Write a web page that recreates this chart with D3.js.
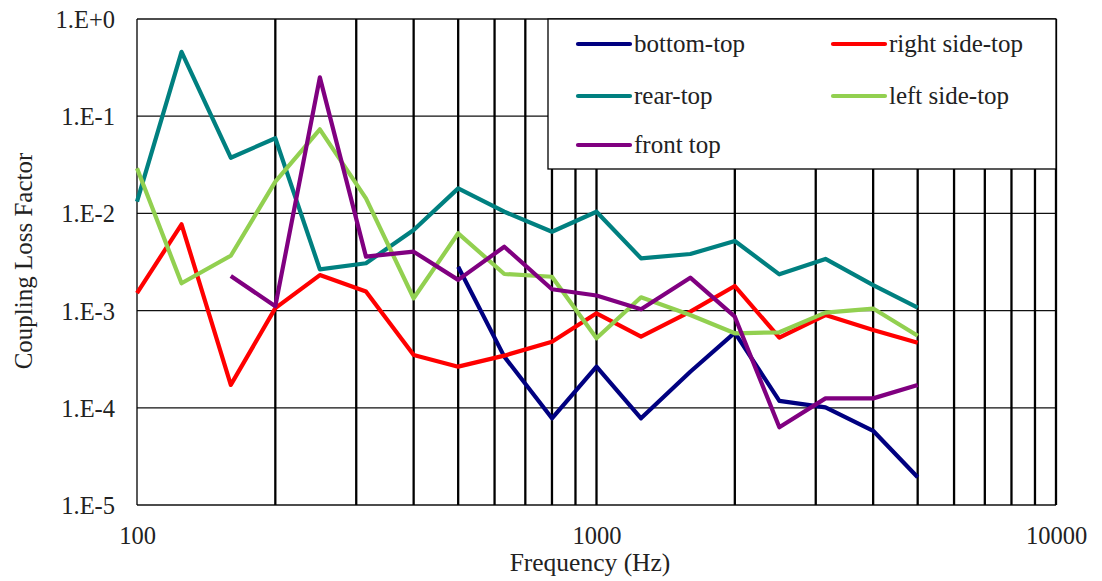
<!DOCTYPE html>
<html>
<head>
<meta charset="utf-8">
<script src="https://cdn.jsdelivr.net/npm/d3@7"></script>
<style>
  body { margin: 0; background: #fff; }
  svg { display: block; }
  text { font-family: "Liberation Serif", "Times New Roman", serif; fill: #222; }
</style>
</head>
<body>
<svg id="chart" width="1102" height="581"></svg>
<script>
const frequencies = [100, 125, 160, 200, 250, 315, 400, 500, 630, 800, 1000, 1250, 1600, 2000, 2500, 3150, 4000, 5000];

const bottomTop = [null, null, null, null, null, null, null, 0.00283, 0.000336, 0.000078, 0.000265, 0.000078, 0.000235, 0.000593, 0.000118, 0.000101, 0.000058, 0.0000193];
const rightSideTop = [0.00151, 0.00773, 0.000172, 0.00106, 0.00232, 0.00157, 0.000349, 0.000265, 0.000344, 0.000479, 0.000937, 0.000539, 0.000975, 0.00179, 0.000527, 0.000901, 0.000631, 0.000468];
const rearTop = [0.0132, 0.46, 0.0374, 0.0593, 0.00266, 0.00307, 0.00676, 0.0181, 0.0104, 0.00648, 0.0104, 0.00345, 0.00382, 0.0052, 0.00236, 0.0034, 0.00183, 0.00107];
const leftSideTop = [0.0291, 0.00191, 0.00367, 0.0212, 0.0733, 0.0143, 0.00134, 0.00624, 0.00238, 0.00223, 0.000519, 0.00137, 0.0009, 0.000584, 0.000598, 0.000952, 0.00105, 0.000552];
const frontTop = [null, null, 0.00227, 0.00111, 0.251, 0.00359, 0.00404, 0.00207, 0.00454, 0.00166, 0.00143, 0.00103, 0.00218, 0.000866, 0.000063, 0.000125, 0.000125, 0.000172];

const seriesNames = ["bottom-top", "right side-top", "rear-top", "left side-top", "front top"];
const seriesColors = ["#000080", "#FF0000", "#008080", "#92D050", "#800080"];
const seriesValues = [bottomTop, rightSideTop, rearTop, leftSideTop, frontTop];

const yTickValues = [1, 0.1, 0.01, 0.001, 0.0001, 0.00001];
const yTickLabels = ["1.E+0", "1.E-1", "1.E-2", "1.E-3", "1.E-4", "1.E-5"];
const xTickValues = [100, 1000, 10000];
const xTickLabels = ["100", "1000", "10000"];
const xGridValues = [100, 200, 300, 400, 500, 600, 700, 800, 900, 1000, 2000, 3000, 4000, 5000, 6000, 7000, 8000, 9000, 10000];

const svg = d3.select("#chart");
const m = { left: 137, right: 1056, top: 19, bottom: 505 };

const x = d3.scaleLog().domain([100, 10000]).range([m.left, m.right]);
const y = d3.scaleLog().domain([0.00001, 1]).range([m.bottom, m.top]);

// horizontal gridlines
svg.append("g").selectAll("line").data(yTickValues).join("line")
  .attr("x1", m.left).attr("x2", m.right)
  .attr("y1", d => y(d)).attr("y2", d => y(d))
  .attr("stroke", "#111").attr("stroke-width", 1.3);

// vertical gridlines
svg.append("g").selectAll("line").data(xGridValues).join("line")
  .attr("x1", d => x(d)).attr("x2", d => x(d))
  .attr("y1", m.top).attr("y2", m.bottom)
  .attr("stroke", "#000").attr("stroke-width", d => d === 100 ? 1.3 : 2.3);

// axes labels
const xAxis = d3.axisBottom(x).tickValues(xTickValues).tickFormat((d, i) => xTickLabels[i]).tickSize(0).tickPadding(0);
const gx = svg.append("g").attr("transform", `translate(0,${m.bottom})`).call(xAxis);
gx.select(".domain").remove();
gx.selectAll("text").attr("dy", null).attr("y", 39).style("font-size", "24.5px").style("font-family", "Liberation Serif").attr("fill", "#222");

const yAxis = d3.axisLeft(y).tickValues(yTickValues).tickFormat((d, i) => yTickLabels[i]).tickSize(0).tickPadding(0);
const gy = svg.append("g").attr("transform", `translate(115,0)`).call(yAxis);
gy.select(".domain").remove();
gy.selectAll("text").attr("dy", "0.35em").style("font-size", "24.5px").style("font-family", "Liberation Serif").attr("fill", "#222");

// series lines
const line = d3.line()
  .defined(d => d.v != null)
  .x(d => x(d.f)).y(d => y(d.v));

seriesValues.forEach((vals, i) => {
  const pts = frequencies.map((f, j) => ({ f, v: vals[j] }));
  svg.append("path").datum(pts)
    .attr("d", line)
    .attr("fill", "none")
    .attr("stroke", seriesColors[i])
    .attr("stroke-width", 4.2)
    .attr("stroke-linejoin", "round");
});

// legend
const lg = svg.append("g");
lg.append("rect").attr("x", 548).attr("y", 19).attr("width", 508).attr("height", 150)
  .attr("fill", "#fff").attr("stroke", "#000").attr("stroke-width", 1.3);
const legPos = [[578, 44], [833, 44], [578, 96], [833, 96], [578, 145]];
seriesNames.forEach((name, i) => {
  const [lx, ly] = legPos[i];
  lg.append("line").attr("x1", lx).attr("x2", lx + 52).attr("y1", ly).attr("y2", ly)
    .attr("stroke", seriesColors[i]).attr("stroke-width", 4.2).attr("stroke-linecap", "round");
  lg.append("text").attr("x", lx + 56).attr("y", ly).attr("dy", "0.32em")
    .style("font-size", "25px").text(name);
});

// axis titles
svg.append("text").attr("x", 590).attr("y", 571).attr("text-anchor", "middle")
  .style("font-size", "25.5px").text("Frequency (Hz)");
svg.append("text").attr("transform", "translate(32,261) rotate(-90)").attr("text-anchor", "middle")
  .style("font-size", "25px").text("Coupling Loss Factor");
</script>
</body>
</html>
